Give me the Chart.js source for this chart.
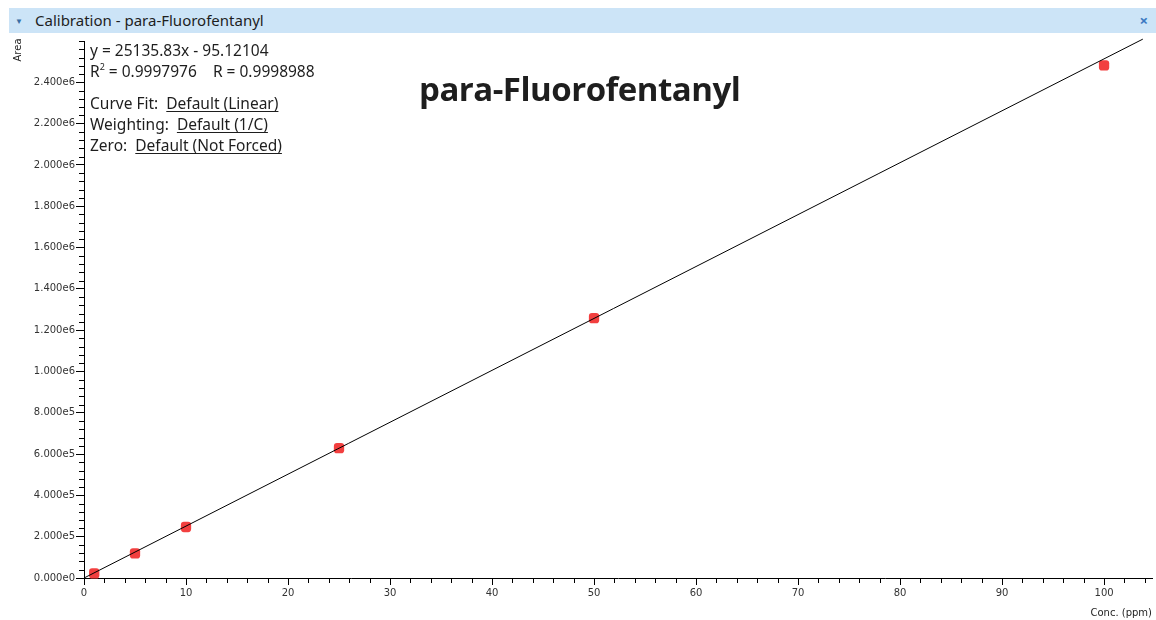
<!DOCTYPE html>
<html>
<head>
<meta charset="utf-8">
<script src="https://cdn.jsdelivr.net/npm/chart.js@4.4.1/dist/chart.umd.min.js"></script>
<style>
    body { margin: 0; background: #fff; font-family: 'Noto Sans', sans-serif; }
    #wrap { position: relative; width: 1156px; height: 620px; overflow: hidden; }
    #header {
        position: absolute; left: 9px; top: 8px; width: 1147px; height: 25px;
        background: #cce4f7; color: #1e1e1e; font-size: 15px; line-height: 25px;
    }
    #header .arrow { position: absolute; left: 6px; top: 0; font-size: 8px; color: #3a6ea5; }
    #header .name { position: absolute; left: 26px; top: 0; }
    #header .close { position: absolute; right: 8px; top: 0; color: #3a78c2; font-weight: bold; font-size: 15px; }
    #info { position: absolute; left: 90px; top: 40px; font-size: 15.5px; color: #1e1e1e; line-height: 21px; }
    #info div { height: 21px; white-space: nowrap; }
    #info u { text-underline-offset: 2px; }
    #info sup { font-size: 9px; vertical-align: baseline; position: relative; top: -7px; }
    #info .gap { height: 11px; }
    #bigTitle { position: absolute; left: 419px; top: 66px; font-size: 33px; font-weight: bold; color: #1e1e1e; font-family: 'Open Sans', sans-serif; letter-spacing: -0.5px; }
    canvas { position: absolute; left: 0; top: 0; }
</style>
</head>
<body>
<div id="wrap">
    <canvas id="calChart" width="1156" height="620"></canvas>
    <div id="header"><span class="arrow">&#9660;</span><span class="name">Calibration - para-Fluorofentanyl</span><span class="close">&#215;</span></div>
    <div id="info">
        <div>y = 25135.83x - 95.12104</div>
        <div>R<sup>2</sup> = 0.9997976&nbsp;&nbsp;&nbsp; R = 0.9998988</div>
        <div class="gap"></div>
        <div>Curve Fit:&nbsp; <u>Default (Linear)</u></div>
        <div>Weighting:&nbsp; <u>Default (1/C)</u></div>
        <div>Zero:&nbsp; <u>Default (Not Forced)</u></div>
    </div>
    <div id="bigTitle">para-Fluorofentanyl</div>
</div>
<script>
// calibration standards (ppm) and measured areas
const concentrations = [1, 5, 10, 25, 50, 100];
const areas = [22000, 119000, 247000, 629000, 1258000, 2482000];

// fitted line end points: y = 25135.83x - 95.12104
const fitX = [0, 103.8];
const fitY = [-95.12, 2609014];

const xRange = [0, 104.7];
const yRange = [0, 2600000];

function fmtExp(v) {
    return Number(v).toExponential(3).replace('+', '');
}

// small ticks between the labelled ones
const minorTicks = {
    id: 'minorTicks',
    afterDraw(chart) {
        const ctx = chart.ctx;
        const xs = chart.scales.x;
        const ys = chart.scales.y;
        const area = chart.chartArea;
        ctx.save();
        ctx.strokeStyle = '#000';
        ctx.lineWidth = 1;
        ctx.beginPath();
        for (let v = 0; v <= xRange[1]; v += 2) {
            if (v % 10 === 0) continue;
            const px = Math.round(xs.getPixelForValue(v)) + 0.5;
            ctx.moveTo(px, area.bottom);
            ctx.lineTo(px, area.bottom + 5);
        }
        for (let v = 0; v <= yRange[1]; v += 40000) {
            if (v % 200000 === 0 && v < yRange[1]) continue;
            const py = Math.round(ys.getPixelForValue(v)) + 0.5;
            ctx.moveTo(area.left - 5, py);
            ctx.lineTo(area.left, py);
        }
        ctx.stroke();

        // axis titles
        ctx.fillStyle = '#1e1e1e';
        ctx.font = '10px "DejaVu Sans"';
        ctx.textAlign = 'right';
        ctx.textBaseline = 'middle';
        ctx.fillText('Conc. (ppm)', 1152, 613);
        ctx.translate(18, 50);
        ctx.rotate(-Math.PI / 2);
        ctx.textAlign = 'center';
        ctx.fillText('Area', 0, 0);
        ctx.restore();
    }
};

const ctx = document.getElementById('calChart').getContext('2d');

new Chart(ctx, {
    type: 'scatter',
    data: {
        datasets: [
            {
                type: 'line',
                label: 'Fit',
                data: fitX.map((x, i) => ({ x: x, y: fitY[i] })),
                borderColor: '#000',
                borderWidth: 1,
                pointRadius: 0,
                fill: false
            },
            {
                label: 'Standards',
                data: concentrations.map((x, i) => ({ x: x, y: areas[i] })),
                pointStyle: 'rectRounded',
                pointRadius: 6,
                backgroundColor: '#f23f3f',
                borderColor: '#f23f3f',
                borderWidth: 0
            }
        ]
    },
    options: {
        responsive: false,
        animation: false,
        clip: false,
        layout: { autoPadding: false, padding: { left: 0, top: 41, right: 4, bottom: 0 } },
        plugins: {
            legend: { display: false },
            tooltip: { enabled: false }
        },
        scales: {
            x: {
                type: 'linear',
                min: xRange[0],
                max: xRange[1],
                afterFit: s => { s.height = 42; },
                afterBuildTicks: s => { s.ticks = s.ticks.filter(t => t.value % 10 === 0); },
                border: { color: '#000', width: 1 },
                grid: { drawOnChartArea: false, tickLength: 7, color: '#000' },
                ticks: { stepSize: 10, color: '#333', padding: 2, font: { family: 'DejaVu Sans', size: 10 }, maxRotation: 0 }
            },
            y: {
                type: 'linear',
                min: yRange[0],
                max: yRange[1],
                afterFit: s => { s.width = 84; },
                afterBuildTicks: s => { s.ticks = s.ticks.filter(t => t.value < yRange[1]); },
                border: { color: '#000', width: 1 },
                grid: { drawOnChartArea: false, tickLength: 8, color: '#000' },
                ticks: { stepSize: 200000, color: '#333', padding: 1, font: { family: 'DejaVu Sans', size: 10 }, callback: v => fmtExp(v) }
            }
        }
    },
    plugins: [minorTicks]
});
</script>
</body>
</html>
